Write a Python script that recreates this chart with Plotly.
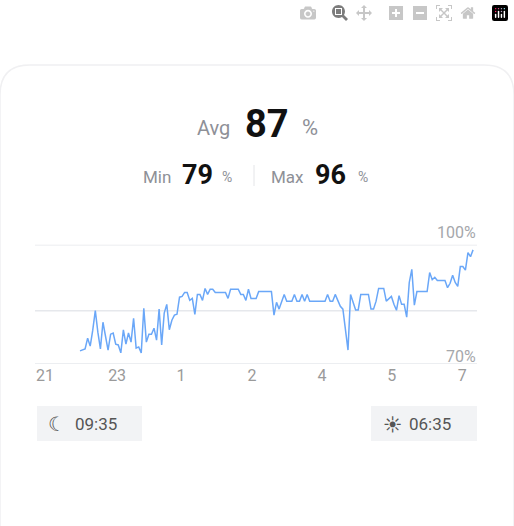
import numpy as np
import plotly.graph_objects as go

# percentage readings, 21:35 -> 06:35
values = [
    73.3, 73.5, 73.8, 76.5, 74.5, 78.5, 83.4, 78, 73.8, 80.5, 76.5, 73.5, 77.5, 77.8, 75, 74.8,
    72.8, 78.6, 75, 77.8, 75.5, 81.5, 74, 74.3, 72.8, 84, 75.5, 77.5, 77.5, 79, 76, 83.8, 74.8,
    82.8, 85, 78.6, 81, 82.3, 82.5,
    86.8, 87, 88, 88, 86, 86.5, 82.5, 87.5, 87.5, 86, 89, 87.5, 88.8, 88.8, 88, 88, 88, 88, 88,
    86.5, 88.8, 88.8, 88.8, 88.8, 87.5, 87.5, 86, 88.8, 86.5, 86.5, 86.5, 88.2, 88.2, 88.2, 88.2,
    88.2, 88.2,
    82.3, 85.5, 83.8, 85.8, 87.5, 85.8, 85.8, 85.8, 87.5, 85.8, 85.8, 87.5, 85.8, 87.5, 85.8,
    85.8, 85.8, 85.8, 85.8, 85.8, 85.8, 87.5, 85.8, 85.8, 87.5, 86, 84.5, 83.8,
    79, 73.5, 87.5, 85.5, 83.6, 83.6, 87.5, 87.5, 87.5, 87.5, 83.8, 83.8, 85.8, 89, 89, 89,
    85.8, 86.4, 87, 85, 83.5, 87.2, 85, 85, 81.8,
    90.5, 93.8, 84.8, 88.2, 88.2, 88.2, 88.2, 88.2, 93, 91.2, 91.8, 91, 91, 91, 91, 89.2, 90.3,
    92.3, 90.5, 89.5, 94.5, 94.5, 93.6, 98, 97, 98.7,
]
hours = np.linspace(0, 9, len(values))  # hours after 21:35
tick_pos = [-0.80, 0.85, 2.31, 3.94, 5.54, 7.14, 8.75]
tick_labels = ["21", "23", "1", "2", "4", "5", "7"]
grid_vals = [70, 83.4, 100]
avg, vmin, vmax = 87, 79, 96
sleep_start, sleep_end = "09:35", "06:35"

W, H = 514, 526
def px(x): return x / W
def py(y): return 1 - y / H

GRAY = "#8e9097"
FONT = "Roboto, Inter, sans-serif"

fig = go.Figure(go.Scatter(x=hours, y=values, mode="lines",
                           line=dict(color="#6aa7f8", width=1.5), hoverinfo="skip"))

fig.update_layout(
    width=W, height=H, margin=dict(l=0, r=0, t=0, b=0),
    paper_bgcolor="white", plot_bgcolor="white", showlegend=False,
    font=dict(family=FONT),
    xaxis=dict(domain=[px(35), px(477)], range=[-1.03, 9.09], tickvals=tick_pos,
               ticktext=tick_labels, showgrid=False, zeroline=False, ticks="",
               tickfont=dict(size=16, color="#9a9a9a")),
    yaxis=dict(domain=[py(364), py(244.7)], range=[70, 100], showgrid=False,
               showticklabels=False, zeroline=False),
)

shapes = [
    dict(type="path", xref="paper", yref="paper", layer="below",
         path=f"M {px(0)},{py(526)} L {px(0)},{py(95)} Q {px(0)},{py(65)} {px(30)},{py(65)} "
              f"L {px(484)},{py(65)} Q {px(514)},{py(65)} {px(514)},{py(95)} L {px(514)},{py(526)}",
         line=dict(color="#f0f0f2", width=1.5), fillcolor="white"),
    dict(type="line", xref="paper", yref="paper", x0=px(254), x1=px(254), y0=py(165), y1=py(186),
         line=dict(color="#e4e5e8", width=1)),
    dict(type="rect", xref="paper", yref="paper", x0=px(37), x1=px(142), y0=py(441), y1=py(406),
         fillcolor="#f2f3f5", line=dict(width=0)),
    dict(type="rect", xref="paper", yref="paper", x0=px(371), x1=px(477), y0=py(441), y1=py(406),
         fillcolor="#f2f3f5", line=dict(width=0)),
]
for g in grid_vals:
    shapes.append(dict(type="line", xref="x domain", yref="y", x0=0, x1=1, y0=g, y1=g,
                       layer="below", line=dict(color="#e6e8ec", width=1.5)))
fig.update_layout(shapes=shapes)

def txt(x, y, s, size, color, xanchor="center", bold=False):
    fig.add_annotation(xref="paper", yref="paper", x=px(x), y=py(y), text=f"<b>{s}</b>" if bold else s,
                       showarrow=False, xanchor=xanchor, yanchor="middle",
                       font=dict(size=size, color=color, family=FONT))

txt(232, 128, "Avg", 20, GRAY, "right")
txt(243, 124, str(avg), 38, "#111111", "left", bold=True)
txt(300, 128, "%", 22, GRAY, "left")
txt(173, 177, "Min", 17, GRAY, "right")
txt(180, 175, str(vmin), 27, "#111111", "left", bold=True)
txt(220, 177, "%", 14, GRAY, "left")
txt(306, 177, "Max", 17, GRAY, "right")
txt(313, 175, str(vmax), 27, "#111111", "left", bold=True)
txt(356, 177, "%", 14, GRAY, "left")
txt(478, 232, "100%", 16, "#a5a7ab", "right")
txt(478, 356, "70%", 16, "#a5a7ab", "right")
txt(57, 424, "☾", 20, "#555", "center")
txt(73, 424, sleep_start, 17, "#555", "left")
txt(392, 424, "☀", 18, "#555", "center")
txt(407, 424, sleep_end, 17, "#555", "left")

fig.write_html("out.html", post_script="document.body.style.margin='0';")
